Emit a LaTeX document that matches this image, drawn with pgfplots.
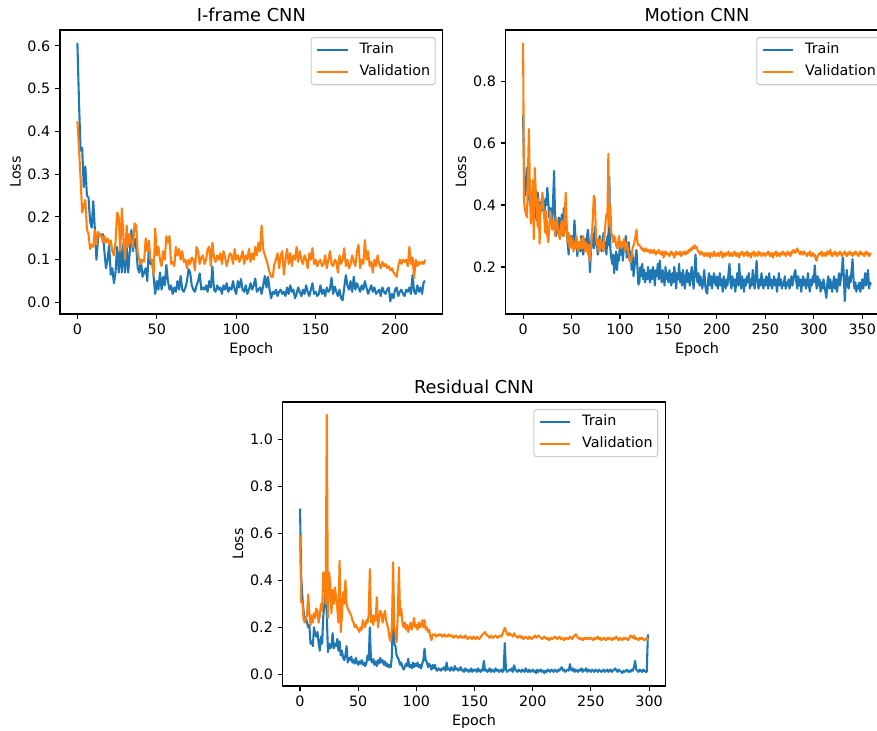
\documentclass[border=0pt]{standalone}
\usepackage{fontspec}
\setmainfont{DejaVu Sans}
\usepackage{pgfplots}
\usepackage{pgfplotstable}
\pgfplotsset{compat=1.18}
\definecolor{tabblue}{RGB}{31,119,180}
\definecolor{taborange}{RGB}{255,127,14}

% ---------------- I-frame CNN ----------------
\pgfplotstableread[row sep=\\, header=false]{
0.607\\0.47\\0.355\\0.362\\0.27\\0.318\\0.25\\0.245\\0.19\\0.175\\
0.237\\0.17\\0.10\\0.15\\0.16\\0.155\\0.16\\0.12\\0.08\\0.10\\
0.135\\0.065\\0.08\\0.045\\0.07\\0.13\\0.07\\0.13\\0.07\\0.14\\
0.07\\0.13\\0.07\\0.12\\0.17\\0.12\\0.15\\0.13\\0.08\\0.07\\
0.10\\0.06\\0.07\\0.08\\0.05\\0.13\\0.09\\0.10\\0.06\\0.02\\
0.05\\0.03\\0.07\\0.03\\0.06\\0.04\\0.088\\0.05\\0.03\\0.04\\
0.02\\0.035\\0.025\\0.05\\0.03\\0.062\\0.03\\0.025\\0.035\\0.05\\
0.078\\0.07\\0.04\\0.03\\0.025\\0.04\\0.05\\0.068\\0.03\\0.035\\
0.03\\0.04\\0.025\\0.05\\0.035\\0.084\\0.03\\0.025\\0.04\\0.03\\
0.035\\0.02\\0.04\\0.03\\0.045\\0.025\\0.035\\0.03\\0.05\\0.03\\
0.02\\0.05\\0.035\\0.055\\0.03\\0.025\\0.04\\0.02\\0.03\\0.045\\
0.03\\0.04\\0.056\\0.025\\0.03\\0.035\\0.02\\0.04\\0.062\\0.035\\
0.06\\0.03\\0.01\\0.025\\0.02\\0.03\\0.015\\0.025\\0.03\\0.02\\
0.025\\0.015\\0.035\\0.02\\0.04\\0.025\\0.03\\0.01\\0.02\\0.035\\
0.025\\0.015\\0.03\\0.02\\0.04\\0.025\\0.015\\0.03\\0.045\\0.02\\
0.025\\0.015\\0.02\\0.04\\0.02\\0.03\\0.015\\0.035\\0.025\\0.03\\
0.058\\0.02\\0.037\\0.025\\0.015\\0.03\\0.01\\0.005\\0.035\\0.064\\
0.04\\0.03\\0.05\\0.025\\0.06\\0.03\\0.045\\0.035\\0.025\\0.04\\
0.03\\0.05\\0.035\\0.02\\0.03\\0.04\\0.025\\0.035\\0.02\\0.025\\
0.03\\0.015\\0.035\\0.025\\0.02\\0.03\\0.035\\0.003\\0.02\\0.01\\
0.03\\0.035\\0.015\\0.025\\0.03\\0.02\\0.015\\0.03\\0.025\\0.035\\
0.02\\0.064\\0.025\\0.02\\0.04\\0.025\\0.035\\0.02\\0.048\\0.05\\
}\IfTrain
\pgfplotstableread[row sep=\\, header=false]{
0.424\\0.36\\0.29\\0.21\\0.225\\0.24\\0.17\\0.16\\0.125\\0.135\\
0.13\\0.17\\0.135\\0.165\\0.155\\0.16\\0.14\\0.155\\0.14\\0.15\\
0.135\\0.145\\0.12\\0.11\\0.14\\0.21\\0.20\\0.12\\0.22\\0.15\\
0.10\\0.18\\0.13\\0.16\\0.14\\0.13\\0.185\\0.18\\0.115\\0.10\\
0.09\\0.10\\0.095\\0.15\\0.12\\0.145\\0.10\\0.10\\0.065\\0.173\\
0.11\\0.13\\0.10\\0.085\\0.12\\0.10\\0.155\\0.14\\0.155\\0.09\\
0.095\\0.085\\0.13\\0.11\\0.125\\0.10\\0.12\\0.095\\0.10\\0.08\\
0.10\\0.09\\0.105\\0.10\\0.075\\0.13\\0.12\\0.09\\0.105\\0.11\\
0.09\\0.10\\0.125\\0.13\\0.085\\0.14\\0.105\\0.095\\0.11\\0.10\\
0.115\\0.09\\0.12\\0.105\\0.085\\0.10\\0.115\\0.11\\0.09\\0.125\\
0.10\\0.11\\0.095\\0.105\\0.12\\0.09\\0.11\\0.10\\0.125\\0.095\\
0.115\\0.10\\0.13\\0.11\\0.14\\0.12\\0.18\\0.125\\0.11\\0.10\\
0.085\\0.07\\0.06\\0.06\\0.09\\0.10\\0.115\\0.08\\0.11\\0.12\\
0.065\\0.10\\0.125\\0.09\\0.115\\0.085\\0.11\\0.10\\0.13\\0.095\\
0.12\\0.10\\0.09\\0.11\\0.10\\0.08\\0.115\\0.10\\0.127\\0.09\\
0.10\\0.085\\0.095\\0.10\\0.085\\0.09\\0.11\\0.08\\0.10\\0.12\\
0.09\\0.085\\0.10\\0.095\\0.07\\0.11\\0.09\\0.10\\0.127\\0.085\\
0.10\\0.08\\0.09\\0.11\\0.095\\0.085\\0.12\\0.135\\0.08\\0.10\\
0.09\\0.146\\0.10\\0.12\\0.085\\0.095\\0.07\\0.10\\0.085\\0.11\\
0.09\\0.08\\0.095\\0.085\\0.09\\0.08\\0.085\\0.075\\0.08\\0.07\\
0.065\\0.06\\0.085\\0.10\\0.09\\0.10\\0.095\\0.10\\0.085\\0.13\\
0.09\\0.105\\0.057\\0.10\\0.085\\0.095\\0.09\\0.095\\0.09\\0.10\\
}\IfVal

% ---------------- Motion CNN ----------------
\pgfplotstableread[row sep=\\, header=false]{
0.69\\0.50\\0.43\\0.46\\0.52\\0.47\\0.43\\0.40\\0.44\\0.40\\
0.38\\0.43\\0.36\\0.40\\0.35\\0.44\\0.40\\0.37\\0.41\\0.38\\
0.41\\0.40\\0.37\\0.42\\0.40\\0.456\\0.41\\0.36\\0.39\\0.37\\
0.35\\0.42\\0.51\\0.36\\0.30\\0.34\\0.31\\0.36\\0.30\\0.33\\
0.37\\0.30\\0.39\\0.35\\0.34\\0.31\\0.28\\0.24\\0.30\\0.27\\
0.30\\0.26\\0.28\\0.35\\0.30\\0.27\\0.235\\0.28\\0.26\\0.25\\
0.30\\0.27\\0.24\\0.26\\0.29\\0.26\\0.30\\0.32\\0.27\\0.183\\
0.25\\0.31\\0.28\\0.26\\0.33\\0.27\\0.29\\0.24\\0.26\\0.30\\
0.28\\0.25\\0.27\\0.31\\0.26\\0.28\\0.24\\0.30\\0.27\\0.49\\
0.26\\0.23\\0.21\\0.24\\0.18\\0.22\\0.25\\0.19\\0.24\\0.22\\
0.28\\0.24\\0.26\\0.22\\0.27\\0.25\\0.30\\0.23\\0.26\\0.28\\
0.22\\0.25\\0.19\\0.24\\0.17\\0.20\\0.23\\0.255\\0.20\\0.143\\
0.15\\0.20\\0.17\\0.21\\0.16\\0.19\\0.15\\0.18\\0.16\\0.20\\
0.17\\0.15\\0.19\\0.16\\0.20\\0.18\\0.14\\0.19\\0.17\\0.21\\
0.16\\0.22\\0.18\\0.15\\0.19\\0.17\\0.14\\0.20\\0.16\\0.18\\
0.15\\0.19\\0.16\\0.14\\0.18\\0.15\\0.20\\0.17\\0.13\\0.18\\
0.16\\0.21\\0.15\\0.18\\0.14\\0.19\\0.16\\0.13\\0.17\\0.19\\
0.15\\0.18\\0.14\\0.17\\0.20\\0.16\\0.13\\0.19\\0.24\\0.17\\
0.15\\0.18\\0.14\\0.17\\0.15\\0.13\\0.16\\0.19\\0.14\\0.12\\
0.114\\0.16\\0.18\\0.14\\0.17\\0.13\\0.16\\0.18\\0.15\\0.14\\
0.17\\0.13\\0.15\\0.18\\0.14\\0.16\\0.12\\0.17\\0.15\\0.13\\
0.16\\0.14\\0.18\\0.21\\0.15\\0.13\\0.17\\0.14\\0.16\\0.12\\
0.15\\0.18\\0.14\\0.21\\0.16\\0.13\\0.17\\0.15\\0.12\\0.16\\
0.14\\0.17\\0.15\\0.18\\0.13\\0.16\\0.14\\0.19\\0.15\\0.13\\
0.17\\0.22\\0.15\\0.13\\0.16\\0.14\\0.18\\0.15\\0.13\\0.16\\
0.14\\0.17\\0.15\\0.13\\0.18\\0.14\\0.16\\0.13\\0.15\\0.17\\
0.14\\0.16\\0.12\\0.15\\0.18\\0.14\\0.16\\0.13\\0.15\\0.14\\
0.17\\0.13\\0.15\\0.14\\0.16\\0.13\\0.15\\0.17\\0.14\\0.16\\
0.18\\0.19\\0.15\\0.13\\0.17\\0.14\\0.16\\0.12\\0.15\\0.17\\
0.14\\0.16\\0.13\\0.15\\0.18\\0.14\\0.12\\0.16\\0.14\\0.17\\
0.15\\0.205\\0.16\\0.13\\0.17\\0.14\\0.16\\0.12\\0.15\\0.13\\
0.16\\0.14\\0.12\\0.10\\0.15\\0.17\\0.13\\0.16\\0.14\\0.12\\
0.15\\0.17\\0.13\\0.16\\0.12\\0.15\\0.18\\0.14\\0.16\\0.19\\
0.23\\0.17\\0.09\\0.15\\0.19\\0.14\\0.13\\0.17\\0.15\\0.19\\
0.225\\0.16\\0.13\\0.15\\0.12\\0.14\\0.13\\0.15\\0.12\\0.14\\
0.16\\0.13\\0.15\\0.18\\0.14\\0.17\\0.19\\0.13\\0.15\\0.143\\
}\MoTrain
\pgfplotstableread[row sep=\\, header=false]{
0.923\\0.41\\0.384\\0.37\\0.36\\0.50\\0.645\\0.45\\0.34\\0.40\\
0.48\\0.29\\0.52\\0.45\\0.40\\0.33\\0.42\\0.275\\0.38\\0.40\\
0.44\\0.39\\0.35\\0.31\\0.38\\0.30\\0.28\\0.33\\0.38\\0.36\\
0.32\\0.35\\0.34\\0.30\\0.36\\0.35\\0.32\\0.30\\0.29\\0.33\\
0.35\\0.31\\0.30\\0.37\\0.44\\0.34\\0.28\\0.31\\0.26\\0.30\\
0.27\\0.29\\0.25\\0.28\\0.26\\0.30\\0.27\\0.25\\0.28\\0.26\\
0.29\\0.26\\0.30\\0.27\\0.25\\0.28\\0.26\\0.24\\0.27\\0.22\\
0.26\\0.30\\0.36\\0.43\\0.42\\0.32\\0.27\\0.29\\0.25\\0.27\\
0.29\\0.26\\0.28\\0.25\\0.30\\0.34\\0.37\\0.36\\0.565\\0.33\\
0.40\\0.31\\0.30\\0.28\\0.30\\0.29\\0.27\\0.26\\0.28\\0.30\\
0.27\\0.26\\0.28\\0.27\\0.29\\0.25\\0.27\\0.28\\0.26\\0.24\\
0.22\\0.215\\0.23\\0.26\\0.27\\0.28\\0.30\\0.32\\0.28\\0.27\\
0.27\\0.266\\0.26\\0.255\\0.26\\0.25\\0.255\\0.26\\0.25\\0.255\\
0.25\\0.245\\0.255\\0.25\\0.245\\0.255\\0.25\\0.24\\0.25\\0.245\\
0.255\\0.25\\0.24\\0.245\\0.25\\0.23\\0.245\\0.25\\0.24\\0.245\\
0.24\\0.235\\0.245\\0.25\\0.24\\0.245\\0.23\\0.24\\0.25\\0.24\\
0.245\\0.24\\0.25\\0.235\\0.245\\0.24\\0.25\\0.245\\0.24\\0.25\\
0.245\\0.255\\0.25\\0.26\\0.255\\0.265\\0.26\\0.27\\0.26\\0.265\\
0.255\\0.25\\0.245\\0.24\\0.25\\0.245\\0.24\\0.235\\0.245\\0.24\\
0.235\\0.245\\0.24\\0.23\\0.245\\0.24\\0.235\\0.25\\0.24\\0.235\\
0.24\\0.245\\0.235\\0.24\\0.25\\0.24\\0.23\\0.245\\0.24\\0.235\\
0.245\\0.24\\0.25\\0.235\\0.24\\0.245\\0.235\\0.24\\0.25\\0.24\\
0.235\\0.245\\0.24\\0.23\\0.245\\0.24\\0.25\\0.24\\0.235\\0.245\\
0.24\\0.25\\0.235\\0.245\\0.24\\0.23\\0.245\\0.24\\0.25\\0.235\\
0.245\\0.24\\0.235\\0.25\\0.24\\0.245\\0.235\\0.24\\0.245\\0.24\\
0.235\\0.245\\0.24\\0.25\\0.24\\0.235\\0.245\\0.24\\0.23\\0.245\\
0.24\\0.25\\0.235\\0.245\\0.24\\0.235\\0.245\\0.24\\0.25\\0.24\\
0.245\\0.235\\0.24\\0.25\\0.24\\0.245\\0.235\\0.25\\0.245\\0.255\\
0.25\\0.245\\0.255\\0.26\\0.25\\0.245\\0.24\\0.25\\0.245\\0.24\\
0.25\\0.245\\0.24\\0.235\\0.245\\0.24\\0.25\\0.235\\0.24\\0.245\\
0.235\\0.24\\0.225\\0.22\\0.235\\0.24\\0.245\\0.24\\0.25\\0.235\\
0.24\\0.245\\0.235\\0.24\\0.25\\0.24\\0.245\\0.255\\0.24\\0.235\\
0.245\\0.24\\0.25\\0.24\\0.235\\0.245\\0.24\\0.25\\0.245\\0.235\\
0.24\\0.245\\0.25\\0.24\\0.235\\0.245\\0.24\\0.25\\0.24\\0.245\\
0.235\\0.245\\0.24\\0.25\\0.245\\0.24\\0.235\\0.245\\0.25\\0.24\\
0.245\\0.24\\0.235\\0.245\\0.25\\0.24\\0.245\\0.235\\0.24\\0.245\\
}\MoVal

% ---------------- Residual CNN ----------------
\pgfplotstableread[row sep=\\, header=false]{
0.706\\0.42\\0.33\\0.27\\0.23\\0.24\\0.22\\0.20\\0.21\\0.13\\
0.14\\0.12\\0.20\\0.17\\0.16\\0.18\\0.13\\0.10\\0.16\\0.13\\
0.25\\0.30\\0.405\\0.25\\0.094\\0.13\\0.11\\0.12\\0.175\\0.11\\
0.13\\0.12\\0.15\\0.10\\0.14\\0.08\\0.10\\0.07\\0.06\\0.08\\
0.12\\0.05\\0.07\\0.06\\0.075\\0.05\\0.06\\0.045\\0.07\\0.05\\
0.04\\0.055\\0.045\\0.06\\0.04\\0.05\\0.035\\0.045\\0.08\\0.06\\
0.20\\0.06\\0.05\\0.065\\0.04\\0.055\\0.035\\0.06\\0.045\\0.07\\
0.05\\0.06\\0.04\\0.055\\0.035\\0.045\\0.03\\0.04\\0.03\\0.08\\
0.32\\0.13\\0.12\\0.08\\0.07\\0.06\\0.04\\0.05\\0.03\\0.02\\
0.03\\0.045\\0.035\\0.066\\0.03\\0.04\\0.025\\0.05\\0.03\\0.045\\
0.035\\0.05\\0.03\\0.04\\0.025\\0.045\\0.06\\0.109\\0.06\\0.05\\
0.03\\0.045\\0.035\\0.02\\0.04\\0.025\\0.04\\0.02\\0.015\\0.025\\
0.02\\0.015\\0.025\\0.02\\0.03\\0.015\\0.05\\0.02\\0.025\\0.015\\
0.03\\0.02\\0.015\\0.035\\0.02\\0.025\\0.015\\0.02\\0.03\\0.015\\
0.02\\0.01\\0.025\\0.015\\0.02\\0.01\\0.015\\0.025\\0.01\\0.02\\
0.015\\0.02\\0.01\\0.025\\0.015\\0.01\\0.02\\0.015\\0.057\\0.015\\
0.02\\0.01\\0.015\\0.025\\0.01\\0.02\\0.015\\0.01\\0.025\\0.015\\
0.02\\0.01\\0.015\\0.02\\0.01\\0.015\\0.133\\0.02\\0.01\\0.015\\
0.02\\0.015\\0.025\\0.01\\0.038\\0.02\\0.015\\0.01\\0.02\\0.015\\
0.01\\0.02\\0.015\\0.01\\0.025\\0.015\\0.01\\0.02\\0.01\\0.015\\
0.02\\0.01\\0.015\\0.005\\0.02\\0.01\\0.015\\0.02\\0.01\\0.015\\
0.005\\0.015\\0.01\\0.02\\0.015\\0.01\\0.02\\0.015\\0.01\\0.02\\
0.015\\0.01\\0.02\\0.015\\0.025\\0.03\\0.015\\0.02\\0.01\\0.015\\
0.02\\0.015\\0.043\\0.02\\0.015\\0.025\\0.01\\0.02\\0.015\\0.01\\
0.02\\0.015\\0.025\\0.01\\0.02\\0.015\\0.025\\0.01\\0.02\\0.015\\
0.01\\0.02\\0.015\\0.01\\0.02\\0.015\\0.01\\0.02\\0.015\\0.01\\
0.015\\0.02\\0.01\\0.015\\0.02\\0.01\\0.015\\0.02\\0.01\\0.015\\
0.02\\0.025\\0.015\\0.01\\0.02\\0.015\\0.01\\0.005\\0.015\\0.01\\
0.015\\0.02\\0.01\\0.015\\0.01\\0.02\\0.015\\0.03\\0.057\\0.02\\
0.015\\0.01\\0.02\\0.015\\0.01\\0.02\\0.015\\0.01\\0.01\\0.17\\
}\ReTrain
\pgfplotstableread[row sep=\\, header=false]{
0.593\\0.306\\0.31\\0.235\\0.22\\0.24\\0.25\\0.34\\0.26\\0.21\\
0.25\\0.22\\0.26\\0.24\\0.28\\0.27\\0.22\\0.25\\0.30\\0.27\\
0.434\\0.43\\0.30\\1.105\\0.24\\0.434\\0.38\\0.26\\0.36\\0.30\\
0.37\\0.33\\0.28\\0.22\\0.484\\0.18\\0.25\\0.35\\0.30\\0.40\\
0.30\\0.28\\0.27\\0.26\\0.25\\0.23\\0.22\\0.20\\0.21\\0.20\\
0.19\\0.18\\0.20\\0.19\\0.23\\0.21\\0.20\\0.23\\0.22\\0.25\\
0.448\\0.22\\0.25\\0.21\\0.25\\0.23\\0.328\\0.20\\0.24\\0.27\\
0.26\\0.22\\0.25\\0.27\\0.23\\0.21\\0.19\\0.15\\0.14\\0.20\\
0.477\\0.20\\0.18\\0.136\\0.25\\0.455\\0.25\\0.28\\0.22\\0.20\\
0.22\\0.19\\0.21\\0.18\\0.20\\0.22\\0.19\\0.21\\0.24\\0.20\\
0.21\\0.19\\0.22\\0.20\\0.21\\0.23\\0.20\\0.23\\0.19\\0.20\\
0.18\\0.19\\0.16\\0.145\\0.17\\0.166\\0.17\\0.16\\0.165\\0.17\\
0.165\\0.17\\0.16\\0.165\\0.17\\0.16\\0.165\\0.16\\0.17\\0.165\\
0.16\\0.165\\0.155\\0.16\\0.165\\0.16\\0.155\\0.16\\0.165\\0.155\\
0.16\\0.155\\0.165\\0.16\\0.15\\0.155\\0.16\\0.155\\0.15\\0.16\\
0.155\\0.15\\0.16\\0.155\\0.15\\0.155\\0.165\\0.17\\0.175\\0.18\\
0.17\\0.165\\0.16\\0.155\\0.165\\0.16\\0.155\\0.16\\0.165\\0.16\\
0.155\\0.16\\0.165\\0.16\\0.17\\0.185\\0.198\\0.185\\0.17\\0.165\\
0.175\\0.17\\0.165\\0.16\\0.175\\0.165\\0.16\\0.155\\0.16\\0.165\\
0.155\\0.16\\0.15\\0.155\\0.16\\0.155\\0.15\\0.16\\0.155\\0.15\\
0.155\\0.16\\0.165\\0.155\\0.16\\0.165\\0.16\\0.155\\0.15\\0.155\\
0.16\\0.155\\0.15\\0.155\\0.145\\0.15\\0.155\\0.15\\0.155\\0.16\\
0.155\\0.15\\0.155\\0.16\\0.15\\0.155\\0.15\\0.145\\0.155\\0.15\\
0.155\\0.15\\0.16\\0.155\\0.15\\0.16\\0.165\\0.17\\0.16\\0.155\\
0.15\\0.155\\0.15\\0.145\\0.155\\0.15\\0.155\\0.15\\0.155\\0.15\\
0.155\\0.15\\0.145\\0.155\\0.15\\0.155\\0.16\\0.15\\0.155\\0.145\\
0.15\\0.155\\0.15\\0.145\\0.155\\0.15\\0.155\\0.15\\0.145\\0.155\\
0.15\\0.155\\0.16\\0.15\\0.145\\0.155\\0.15\\0.145\\0.155\\0.15\\
0.155\\0.15\\0.145\\0.155\\0.165\\0.16\\0.155\\0.165\\0.15\\0.155\\
0.15\\0.145\\0.155\\0.15\\0.155\\0.15\\0.145\\0.15\\0.155\\0.145\\
}\ReVal

\pgfplotsset{
  mpl/.style={
    scale only axis, width=275.5pt, height=204.5pt,
    anchor=north west,
    axis line style={line width=0.8pt},
    every tick/.style={black, line width=0.8pt},
    major tick length=3.5pt,
    tick align=outside,
    tick pos=left,
    minor tick num=0,
    tick label style={font=\fontsize{10.3}{12}\selectfont},
    label style={font=\fontsize{10.3}{12}\selectfont},
    title style={font=\fontsize{12.8}{15}\selectfont, anchor=base, inner sep=0pt},
    /pgf/number format/assume math mode=true,
    scaled ticks=false,
    xticklabel style={/pgf/number format/fixed},
    yticklabel style={/pgf/number format/.cd, fixed, fixed zerofill, precision=1},
    xlabel={Epoch}, ylabel={Loss},
    xlabel shift=-1pt, ylabel shift=-2pt,
    legend cell align=left,
    legend image code/.code={\draw[##1] (0pt,0pt) -- (22pt,0pt);},
    legend style={at={(1,1)}, anchor=north east, xshift=-5pt, yshift=-5pt,
      draw=black!20, line width=0.8pt, rounded corners=2pt, fill=white, fill opacity=0.8, text opacity=1,
      font=\fontsize{10.3}{12}\selectfont, inner xsep=3.6pt, inner ysep=4.2pt,
      column sep=7.7pt, row sep=5.6pt,
      nodes={inner xsep=0pt, inner ysep=0pt, text height=7.6pt, text depth=2.4pt}},
  },
  trn/.style={tabblue, line width=1.5pt, line join=round},
  vld/.style={taborange, line width=1.5pt, line join=round},
}

\begin{document}
\begin{tikzpicture}
\path[use as bounding box] (0,0) rectangle (631.44pt,-526.32pt);
\clip (0,0) rectangle (631.44pt,-526.32pt);

\begin{axis}[mpl, at={(43.2pt,-21.6pt)}, title={I-frame CNN},
  xmin=-10.95, xmax=229.95, ymin=-0.027, ymax=0.637,
  xtick={0,50,100,150,200}, ytick={0,0.1,0.2,0.3,0.4,0.5,0.6}]
\addplot[trn] table[x expr=\coordindex, y index=0] {\IfTrain};
\addlegendentry{Train}
\addplot[vld] table[x expr=\coordindex, y index=0] {\IfVal};
\addlegendentry{Validation}
\end{axis}

\begin{axis}[mpl, at={(364.1pt,-21.6pt)}, title={Motion CNN},
  xmin=-17.95, xmax=376.95, ymin=0.048, ymax=0.965,
  xtick={0,50,100,150,200,250,300,350}, ytick={0.2,0.4,0.6,0.8}]
\addplot[trn] table[x expr=\coordindex, y index=0] {\MoTrain};
\addlegendentry{Train}
\addplot[vld] table[x expr=\coordindex, y index=0] {\MoVal};
\addlegendentry{Validation}
\end{axis}

\begin{axis}[mpl, at={(203.5pt,-289.4pt)}, title={Residual CNN},
  xmin=-14.95, xmax=313.95, ymin=-0.05, ymax=1.16,
  xtick={0,50,100,150,200,250,300}, ytick={0,0.2,0.4,0.6,0.8,1.0}]
\addplot[trn] table[x expr=\coordindex, y index=0] {\ReTrain};
\addlegendentry{Train}
\addplot[vld] table[x expr=\coordindex, y index=0] {\ReVal};
\addlegendentry{Validation}
\end{axis}
\end{tikzpicture}
\end{document}
